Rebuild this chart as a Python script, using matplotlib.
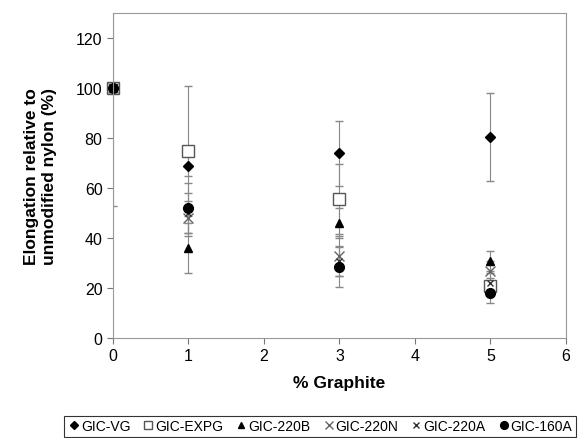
import matplotlib.pyplot as plt
from matplotlib.lines import Line2D

plt.rcParams['font.family'] = ['Liberation Sans', 'DejaVu Sans']

x = [0, 1, 3, 5]
series = ['GIC-VG', 'GIC-EXPG', 'GIC-220B', 'GIC-220N', 'GIC-220A', 'GIC-160A']

vg = [100, 69, 74, 80.5]
vg_err = [0, 4, 13, 17.5]
expg = [100, 75, 55.6, 21]
expg_err = [47, 26, 14, 3]
b220 = [100, 36, 46, 31]
b220_err = [0, 10, 6, 4]
n220 = [100, 48, 33, 27]
n220_err = [0, 7, 8, 4]
a220 = [100, 50, 31, 22]
a220_err = [0, 8, 6, 4]
a160 = [100, 52, 28.5, 18]
a160_err = [0, 10, 8, 4]

values = [vg, expg, b220, n220, a220, a160]
errors = [vg_err, expg_err, b220_err, n220_err, a220_err, a160_err]
markers = ['D', 's', '^', 'x', 'x', 'o']
sizes = [5, 8, 6, 7, 5, 7]
faces = ['black', 'white', 'black', 'none', 'none', 'black']
edges = ['black', '#555555', 'black', '#666666', '#333333', 'black']

fig = plt.figure(figsize=(5.87, 4.39), dpi=100)
ax = fig.add_axes([0.1925, 0.2278, 0.7715, 0.740])

handles = []
for name, v, e, m, s, fc, ec in zip(series, values, errors, markers, sizes, faces, edges):
    cont = ax.errorbar(x, v, yerr=e, fmt=m, ms=s, mfc=fc, mec=ec, mew=1.0,
                       ecolor='#888888', elinewidth=0.8, capsize=3, capthick=0.8)
    cont[0].set_clip_on(False)
    handles.append(Line2D([], [], linestyle='none', marker=m, ms=s * 0.8,
                          mfc=fc, mec=ec, mew=1.0, label=name))

ax.set_xlim(0, 6)
ax.set_ylim(0, 130)
ax.set_xticks(range(0, 7))
ax.set_yticks(range(0, 121, 20))
ax.tick_params(labelsize=11.5, length=4, color='#777777')
for sp in ax.spines.values():
    sp.set_color('#999999')

ax.set_xlabel('% Graphite', fontsize=12.5, fontweight='bold', labelpad=8)
ax.set_ylabel('Elongation relative to\nunmodified nylon (%)', fontsize=12.5,
              fontweight='bold', labelpad=14)

leg = fig.legend(handles=handles, loc='center', bbox_to_anchor=(0.545, 0.027), ncol=6,
                 fontsize=10, frameon=True, fancybox=False, edgecolor='black',
                 handletextpad=0.05, columnspacing=0.85, handlelength=0.9, borderpad=0.25)
leg.get_frame().set_linewidth(0.8)

fig.savefig('out.png', dpi=100)
